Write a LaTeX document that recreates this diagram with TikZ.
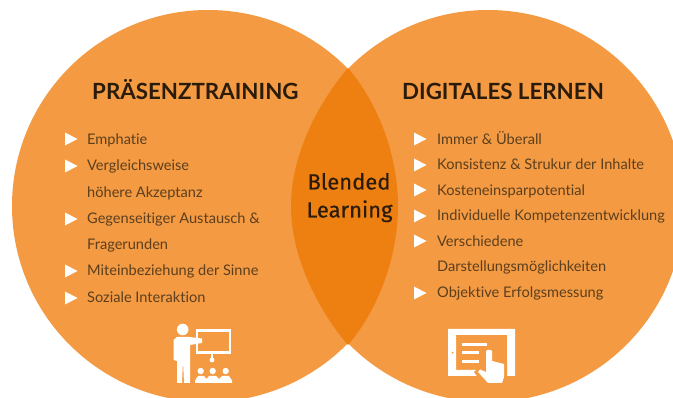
\documentclass[tikz,border=0pt]{standalone}
\usepackage{fontspec}
\setmainfont{Lato}[Ligatures=NoCommon]
\newfontfamily\blendfont{Fira Sans}[FakeBold=0.4]
\definecolor{lightorange}{HTML}{F39A42}
\definecolor{darkorange}{HTML}{EE8012}
\definecolor{headink}{HTML}{2B1B0A}
\definecolor{itemink}{HTML}{5C3F1E}
\tikzset{
  head/.style={anchor=base west,inner sep=0pt,text=headink,font=\fontsize{22.3}{22}\selectfont\bfseries},
  item/.style={anchor=base west,inner sep=0pt,text=itemink,font=\fontsize{14.6}{15}\selectfont},
  blend/.style={anchor=base,inner sep=0pt,text=headink,font=\blendfont\fontsize{22}{22}\selectfont},
  icon/.style={fill=white,draw=none},
  iconline/.style={draw=white,line width=2.6pt},
}
\newcommand{\tri}[2]{\fill[white] (#1,#2-6.5) -- (#1+12.5,#2) -- (#1,#2+6.5) -- cycle;}
\begin{document}
\begin{tikzpicture}[x=1pt,y=-1pt]
\useasboundingbox (0,0) rectangle (673,398);
\clip (0,0) rectangle (673,398);
\fill[lightorange] (208,206) circle[radius=196];
\fill[lightorange] (488,206) circle[radius=196];
\fill[darkorange] (348,68) .. controls (378,103) and (398,155) .. (398,206)
   .. controls (398,257) and (378,310) .. (348,345)
   .. controls (318,310) and (291,257) .. (291,206)
   .. controls (291,155) and (318,103) .. (348,68) -- cycle;
\node[head] (h1) at (92,99.5) {PRÄSENZTRAINING};
\node[head] (h2) at (402,99.5) {DIGITALES LERNEN};
\node[blend] (b1) at (349,189.5) {Blended};
\node[blend] (b2) at (349.5,217.5) {Learning};
% left list
\tri{65}{139}\tri{65}{166}\tri{65}{219}\tri{65}{271}\tri{65}{298}
\node[item] (l1) at (87,144.5) {Emphatie};
\node[item] (l2) at (87,171) {Vergleichsweise};
\node[item] (l3) at (87,197.5) {höhere Akzeptanz};
\node[item] (l4) at (87,224) {Gegenseitiger Austausch \&};
\node[item] (l5) at (87,250) {Fragerunden};
\node[item] (l6) at (87,276) {Miteinbeziehung der Sinne};
\node[item] (l7) at (87,302.5) {Soziale Interaktion};
% right list
\tri{414}{139}\tri{414}{165}\tri{414}{190}\tri{414}{216}\tri{414}{241}\tri{414}{293}
\node[item] (r1) at (437,144.5) {Immer \& Überall};
\node[item] (r2) at (437,170) {Konsistenz \& Strukur der Inhalte};
\node[item] (r3) at (437,195.5) {Kosteneinsparpotential};
\node[item] (r4) at (437,221) {Individuelle Kompetenzentwicklung};
\node[item] (r5) at (437,246.5) {Verschiedene};
\node[item] (r6) at (437,272) {Darstellungsmöglichkeiten};
\node[item] (r7) at (437,297.5) {Objektive Erfolgsmessung};
% trainer icon
\fill[icon] (182.7,329.5) circle[radius=5.8];
\fill[icon] (173.5,340) -- (177,337) -- (189,337) -- (202,338.5) -- (202,343) -- (190,345) -- (190,383) -- (184,383) -- (183,361) -- (182,383) -- (177,383) -- (177,361) -- (173.5,360) -- cycle;
\draw[iconline] (197,330.5) rectangle (230,352.5);
\draw[iconline,line width=1.6pt] (212,354) -- (212,358);
\fill[icon] (212,360) circle[radius=2.4];
\fill[icon] (200.7,371) circle[radius=3.2];
\fill[icon] (212.7,371) circle[radius=3.2];
\fill[icon] (225.7,371) circle[radius=3.2];
\fill[icon] (195,383) -- (195,380.5) -- (198,376) -- (204,376) -- (206.5,379) -- (209,376) -- (216,376) -- (219,379) -- (222,376) -- (229,376) -- (232,380.5) -- (232,383) -- cycle;
% tablet icon
\fill[icon,even odd rule] (448,329) rectangle (515,376) (456,335) rectangle (507,370);
\fill[lightorange] (452.7,352.7) circle[radius=1];
\fill[icon] (462,343) rectangle (487,346);
\fill[icon] (462,351.5) rectangle (479,354.5);
\fill[icon] (462,360) rectangle (479,363);
\fill[lightorange] (483,360) -- (483,350) -- (489,347) -- (495,350) -- (495,358) -- (507,361) -- (507,384) -- (484,386) -- (474,372) -- (479,367) -- cycle;
\fill[icon] (486,351) .. controls (486,349.5) and (492,349.5) .. (492,351) -- (492,361) -- (504,364) -- (504,377) -- (502,383) -- (488,383) -- (478,372) -- (480,369.5) -- (486,372) -- cycle;
\end{tikzpicture}
\end{document}
